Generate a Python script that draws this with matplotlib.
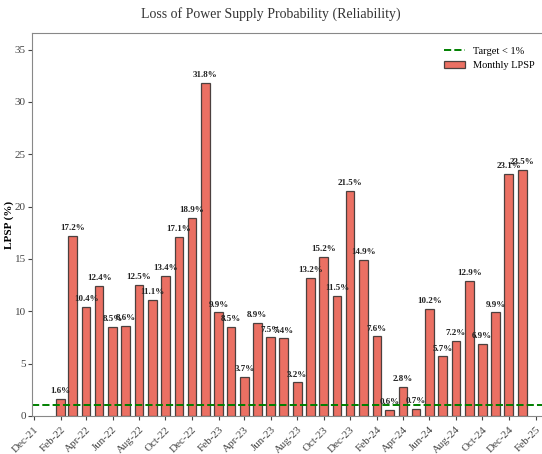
import pandas as pd
import matplotlib
matplotlib.use('Agg')
from matplotlib import pyplot as plt
import matplotlib.dates as mdates

plt.rcParams['font.family'] = ['Liberation Serif', 'DejaVu Serif']

start_month = '2022-02-01'
lpsp = [1.6, 17.2, 10.4, 12.4, 8.5, 8.6, 12.5, 11.1, 13.4, 17.1, 18.9, 31.8,
        9.9, 8.5, 3.7, 8.9, 7.5, 7.4, 3.2, 13.2, 15.2, 11.5, 21.5, 14.9,
        7.6, 0.6, 2.8, 0.7, 10.2, 5.7, 7.2, 12.9, 6.9, 9.9, 23.1, 23.5]
target = 1.0
months = pd.date_range(start_month, periods=len(lpsp), freq='MS')

fig = plt.figure(figsize=(5.42, 4.54), dpi=100)
ax = fig.add_axes([0.059, 0.084, 0.95, 0.843])

ax.bar(months, lpsp, width=20, color='#e74c3c', alpha=0.8,
       edgecolor='#222222', linewidth=0.9, label='Monthly LPSP')
ax.axhline(target, color='green', linestyle='--', linewidth=1.4, label='Target < 1%')

for d, v in zip(months, lpsp):
    ax.text(d, v + 0.35, f'{v}%', ha='center', va='bottom',
            fontsize=6.5, fontweight='bold', color='#222222')

ax.set_ylim(0, max(lpsp) * 1.15)
ax.set_xlim(pd.Timestamp('2021-11-27'), pd.Timestamp('2025-02-27'))
ax.xaxis.set_major_locator(mdates.MonthLocator(bymonth=range(2, 13, 2)))
ax.xaxis.set_major_formatter(mdates.DateFormatter('%b-%y'))
plt.setp(ax.get_xticklabels(), rotation=45, ha='right', rotation_mode='anchor')

ax.tick_params(labelsize=8, colors='#444444', length=3)
ax.tick_params(axis='y', pad=1.5)
for s in ax.spines.values():
    s.set_color('#888888')

ax.set_ylabel('LPSP (%)', fontsize=8, fontweight='bold')
ax.yaxis.set_label_coords(-0.034, 0.5)
fig.suptitle('Loss of Power Supply Probability (Reliability)', fontsize=10,
             color='#333333', y=0.985)

ax.legend(loc='upper right', frameon=False, fontsize=7.5,
          bbox_to_anchor=(0.995, 0.99))

plt.savefig('out.png', dpi=100)
